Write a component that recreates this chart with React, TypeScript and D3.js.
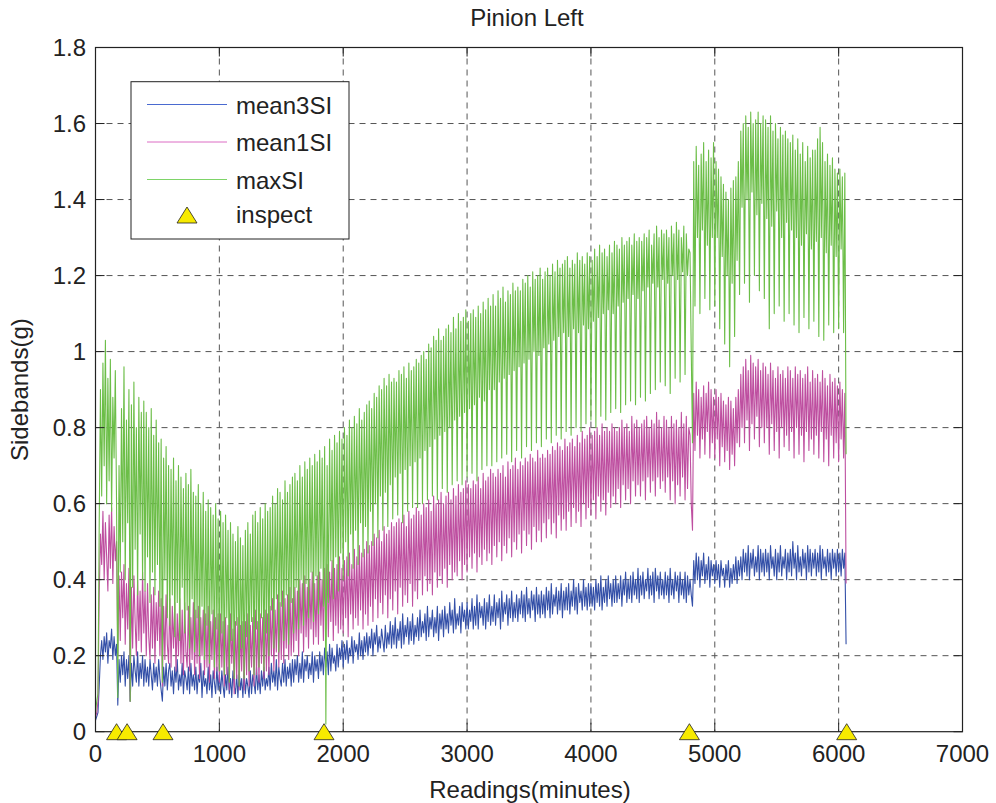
import React from 'react';
import * as d3 from 'd3';

// readings are logged every 10 minutes, starting at 0
const STEP_MIN = 10;

// mean3SI (g), one row = 200 minutes
const mean3SI = [
  0.03, 0.04, 0.05, 0.12, 0.2, 0.24, 0.19, 0.25, 0.21, 0.26, 0.18, 0.24, 0.22, 0.27, 0.19, 0.25, 0.2, 0.23, 0.07, 0.19,
  0.13, 0.2, 0.15, 0.21, 0.12, 0.19, 0.14, 0.2, 0.08, 0.18, 0.12, 0.2, 0.16, 0.13, 0.21, 0.12, 0.18, 0.14, 0.2, 0.12,
  0.19, 0.13, 0.17, 0.12, 0.19, 0.15, 0.11, 0.18, 0.13, 0.17, 0.12, 0.19, 0.14, 0.11, 0.08, 0.17, 0.12, 0.18, 0.11, 0.16,
  0.18, 0.12, 0.16, 0.1, 0.17, 0.13, 0.19, 0.11, 0.15, 0.12, 0.18, 0.1, 0.16, 0.14, 0.11, 0.17, 0.1, 0.18, 0.12, 0.15,
  0.11, 0.17, 0.1, 0.15, 0.13, 0.18, 0.09, 0.16, 0.12, 0.14, 0.1, 0.17, 0.11, 0.15, 0.09, 0.16, 0.13, 0.1, 0.17, 0.11,
  0.15, 0.1, 0.16, 0.12, 0.09, 0.15, 0.11, 0.17, 0.1, 0.14, 0.09, 0.16, 0.12, 0.1, 0.15, 0.09, 0.16, 0.11, 0.14, 0.09,
  0.16, 0.1, 0.14, 0.12, 0.09, 0.16, 0.1, 0.15, 0.13, 0.1, 0.17, 0.11, 0.15, 0.1, 0.16, 0.12, 0.17, 0.11, 0.14, 0.12,
  0.17, 0.11, 0.18, 0.13, 0.16, 0.12, 0.19, 0.11, 0.17, 0.14, 0.12, 0.18, 0.13, 0.19, 0.12, 0.17, 0.14, 0.18, 0.12, 0.19,
  0.13, 0.19, 0.15, 0.2, 0.13, 0.18, 0.14, 0.21, 0.13, 0.19, 0.16, 0.2, 0.14, 0.18, 0.15, 0.21, 0.13, 0.2, 0.16, 0.19,
  0.14, 0.21, 0.16, 0.2, 0.15, 0.22, 0.17, 0.21, 0.15, 0.23, 0.16, 0.22, 0.18, 0.2, 0.16, 0.23, 0.17, 0.22, 0.19, 0.24,
  0.17, 0.23, 0.19, 0.24, 0.18, 0.22, 0.2, 0.25, 0.18, 0.24, 0.21, 0.23, 0.19, 0.26, 0.2, 0.24, 0.19, 0.25, 0.21, 0.26,
  0.2, 0.25, 0.22, 0.27, 0.2, 0.26, 0.23, 0.28, 0.21, 0.25, 0.22, 0.27, 0.24, 0.21, 0.28, 0.22, 0.26, 0.23, 0.29, 0.22,
  0.28, 0.23, 0.3, 0.22, 0.27, 0.24, 0.29, 0.22, 0.31, 0.23, 0.28, 0.25, 0.3, 0.23, 0.29, 0.24, 0.31, 0.23, 0.28, 0.25,
  0.3, 0.24, 0.32, 0.25, 0.29, 0.26, 0.31, 0.24, 0.33, 0.25, 0.3, 0.27, 0.32, 0.25, 0.3, 0.26, 0.33, 0.24, 0.31, 0.27,
  0.32, 0.25, 0.33, 0.27, 0.31, 0.26, 0.34, 0.28, 0.32, 0.26, 0.35, 0.27, 0.31, 0.28, 0.33, 0.26, 0.34, 0.29, 0.32, 0.27,
  0.34, 0.27, 0.32, 0.29, 0.35, 0.27, 0.33, 0.28, 0.36, 0.27, 0.34, 0.3, 0.33, 0.28, 0.35, 0.27, 0.34, 0.29, 0.36, 0.28,
  0.33, 0.29, 0.36, 0.28, 0.34, 0.3, 0.35, 0.27, 0.37, 0.29, 0.34, 0.31, 0.36, 0.28, 0.35, 0.3, 0.37, 0.29, 0.34, 0.3,
  0.36, 0.29, 0.35, 0.31, 0.37, 0.3, 0.36, 0.29, 0.38, 0.31, 0.35, 0.3, 0.37, 0.32, 0.36, 0.29, 0.38, 0.31, 0.36, 0.3,
  0.37, 0.31, 0.36, 0.3, 0.38, 0.32, 0.37, 0.3, 0.39, 0.31, 0.36, 0.33, 0.38, 0.31, 0.37, 0.32, 0.39, 0.3, 0.37, 0.32,
  0.38, 0.32, 0.39, 0.31, 0.37, 0.33, 0.4, 0.32, 0.38, 0.31, 0.39, 0.34, 0.37, 0.32, 0.4, 0.33, 0.38, 0.32, 0.39, 0.33,
  0.39, 0.33, 0.38, 0.32, 0.4, 0.34, 0.39, 0.33, 0.41, 0.32, 0.38, 0.34, 0.4, 0.33, 0.41, 0.35, 0.39, 0.33, 0.4, 0.34,
  0.41, 0.34, 0.39, 0.35, 0.41, 0.33, 0.4, 0.36, 0.42, 0.34, 0.4, 0.35, 0.41, 0.34, 0.42, 0.36, 0.4, 0.35, 0.43, 0.34,
  0.41, 0.36, 0.42, 0.35, 0.4, 0.37, 0.43, 0.35, 0.41, 0.36, 0.42, 0.34, 0.43, 0.37, 0.41, 0.35, 0.42, 0.36, 0.4, 0.35,
  0.42, 0.36, 0.41, 0.34, 0.43, 0.36, 0.4, 0.35, 0.42, 0.37, 0.41, 0.34, 0.42, 0.36, 0.4, 0.35, 0.42, 0.34, 0.41, 0.36,
  0.4, 0.36, 0.33, 0.45, 0.39, 0.47, 0.4, 0.46, 0.38, 0.45, 0.41, 0.47, 0.39, 0.44, 0.4, 0.46, 0.38, 0.45, 0.41, 0.44,
  0.39, 0.45, 0.4, 0.44, 0.38, 0.45, 0.41, 0.43, 0.38, 0.44, 0.4, 0.45, 0.38, 0.43, 0.39, 0.44, 0.4, 0.46, 0.39, 0.45,
  0.41, 0.46, 0.4, 0.48, 0.42, 0.47, 0.41, 0.49, 0.4, 0.47, 0.43, 0.48, 0.41, 0.46, 0.42, 0.49, 0.4, 0.48, 0.42, 0.47,
  0.41, 0.48, 0.42, 0.47, 0.4, 0.49, 0.43, 0.46, 0.41, 0.48, 0.4, 0.47, 0.42, 0.49, 0.41, 0.46, 0.43, 0.48, 0.4, 0.47,
  0.42, 0.48, 0.41, 0.5, 0.43, 0.47, 0.4, 0.49, 0.42, 0.46, 0.41, 0.48, 0.43, 0.47, 0.4, 0.49, 0.42, 0.48, 0.41, 0.47,
  0.43, 0.48, 0.41, 0.47, 0.42, 0.49, 0.4, 0.48, 0.43, 0.46, 0.41, 0.48, 0.42, 0.47, 0.4, 0.48, 0.43, 0.47, 0.41, 0.48,
  0.42, 0.47, 0.41, 0.48, 0.43, 0.47, 0.23,
];

// mean1SI (g)
const mean1SI = [
  0.04, 0.05, 0.08, 0.36, 0.52, 0.44, 0.58, 0.4, 0.55, 0.46, 0.37, 0.57, 0.43, 0.59, 0.39, 0.54, 0.45, 0.5, 0.2, 0.41,
  0.24, 0.42, 0.3, 0.44, 0.23, 0.39, 0.27, 0.43, 0.08, 0.38, 0.22, 0.41, 0.29, 0.2, 0.4, 0.24, 0.37, 0.21, 0.42, 0.26,
  0.37, 0.2, 0.39, 0.25, 0.19, 0.36, 0.22, 0.38, 0.18, 0.34, 0.24, 0.37, 0.2, 0.35, 0.12, 0.33, 0.19, 0.36, 0.23, 0.18,
  0.35, 0.17, 0.33, 0.22, 0.34, 0.16, 0.31, 0.2, 0.35, 0.18, 0.32, 0.15, 0.34, 0.21, 0.17, 0.33, 0.16, 0.3, 0.19, 0.34,
  0.15, 0.32, 0.18, 0.33, 0.14, 0.3, 0.2, 0.32, 0.15, 0.31, 0.17, 0.33, 0.13, 0.29, 0.19, 0.32, 0.14, 0.3, 0.16, 0.31,
  0.13, 0.31, 0.17, 0.29, 0.12, 0.3, 0.15, 0.28, 0.11, 0.31, 0.18, 0.27, 0.1, 0.29, 0.14, 0.3, 0.11, 0.28, 0.16, 0.29,
  0.11, 0.29, 0.15, 0.31, 0.12, 0.28, 0.17, 0.3, 0.12, 0.32, 0.15, 0.29, 0.13, 0.31, 0.18, 0.3, 0.14, 0.32, 0.16, 0.31,
  0.15, 0.33, 0.2, 0.35, 0.16, 0.32, 0.21, 0.36, 0.17, 0.34, 0.19, 0.37, 0.18, 0.35, 0.22, 0.36, 0.19, 0.38, 0.2, 0.35,
  0.21, 0.38, 0.24, 0.37, 0.2, 0.4, 0.26, 0.39, 0.21, 0.41, 0.25, 0.38, 0.22, 0.4, 0.27, 0.42, 0.23, 0.39, 0.25, 0.41,
  0.23, 0.42, 0.28, 0.4, 0.24, 0.43, 0.27, 0.44, 0.25, 0.42, 0.29, 0.45, 0.24, 0.43, 0.28, 0.44, 0.26, 0.46, 0.27, 0.43,
  0.26, 0.45, 0.3, 0.46, 0.25, 0.47, 0.31, 0.44, 0.27, 0.48, 0.3, 0.46, 0.28, 0.49, 0.32, 0.47, 0.27, 0.48, 0.31, 0.5,
  0.28, 0.49, 0.33, 0.5, 0.29, 0.52, 0.35, 0.51, 0.3, 0.53, 0.34, 0.5, 0.31, 0.54, 0.36, 0.52, 0.3, 0.53, 0.35, 0.55,
  0.32, 0.54, 0.37, 0.55, 0.31, 0.56, 0.38, 0.55, 0.33, 0.57, 0.36, 0.54, 0.34, 0.58, 0.39, 0.56, 0.33, 0.57, 0.37, 0.59,
  0.35, 0.58, 0.4, 0.57, 0.36, 0.6, 0.41, 0.59, 0.37, 0.61, 0.39, 0.58, 0.36, 0.62, 0.42, 0.6, 0.38, 0.61, 0.41, 0.63,
  0.39, 0.6, 0.43, 0.62, 0.38, 0.63, 0.44, 0.61, 0.4, 0.64, 0.42, 0.62, 0.41, 0.65, 0.45, 0.63, 0.4, 0.64, 0.44, 0.66,
  0.42, 0.65, 0.46, 0.64, 0.43, 0.66, 0.47, 0.65, 0.42, 0.67, 0.46, 0.64, 0.44, 0.68, 0.48, 0.66, 0.45, 0.67, 0.47, 0.69,
  0.44, 0.68, 0.49, 0.67, 0.46, 0.69, 0.5, 0.68, 0.45, 0.7, 0.49, 0.67, 0.47, 0.71, 0.51, 0.69, 0.46, 0.7, 0.5, 0.72,
  0.48, 0.69, 0.52, 0.71, 0.47, 0.7, 0.53, 0.72, 0.49, 0.71, 0.52, 0.73, 0.48, 0.72, 0.54, 0.71, 0.5, 0.74, 0.53, 0.72,
  0.5, 0.73, 0.55, 0.72, 0.51, 0.74, 0.56, 0.73, 0.52, 0.75, 0.55, 0.74, 0.51, 0.76, 0.57, 0.75, 0.53, 0.74, 0.56, 0.77,
  0.53, 0.75, 0.58, 0.76, 0.54, 0.77, 0.59, 0.75, 0.55, 0.78, 0.58, 0.76, 0.54, 0.79, 0.6, 0.77, 0.56, 0.78, 0.59, 0.8,
  0.57, 0.78, 0.61, 0.79, 0.56, 0.8, 0.62, 0.78, 0.58, 0.81, 0.61, 0.79, 0.57, 0.8, 0.63, 0.79, 0.59, 0.81, 0.62, 0.8,
  0.6, 0.79, 0.64, 0.8, 0.59, 0.82, 0.65, 0.8, 0.61, 0.81, 0.64, 0.79, 0.6, 0.83, 0.66, 0.81, 0.62, 0.82, 0.65, 0.8,
  0.62, 0.81, 0.66, 0.82, 0.61, 0.83, 0.67, 0.8, 0.63, 0.82, 0.66, 0.81, 0.62, 0.84, 0.67, 0.82, 0.64, 0.8, 0.66, 0.83,
  0.63, 0.82, 0.67, 0.8, 0.61, 0.83, 0.66, 0.81, 0.6, 0.82, 0.65, 0.8, 0.62, 0.84, 0.67, 0.81, 0.61, 0.83, 0.64, 0.8,
  0.78, 0.6, 0.53, 0.89, 0.74, 0.92, 0.78, 0.9, 0.72, 0.88, 0.77, 0.91, 0.73, 0.89, 0.79, 0.92, 0.72, 0.9, 0.76, 0.88,
  0.72, 0.9, 0.77, 0.88, 0.7, 0.89, 0.75, 0.87, 0.71, 0.86, 0.74, 0.88, 0.69, 0.87, 0.73, 0.85, 0.7, 0.88, 0.76, 0.9,
  0.75, 0.94, 0.8, 0.96, 0.76, 0.98, 0.82, 0.95, 0.74, 0.99, 0.81, 0.97, 0.77, 0.96, 0.83, 0.98, 0.75, 0.95, 0.8, 0.97,
  0.76, 0.96, 0.8, 0.94, 0.73, 0.97, 0.81, 0.95, 0.74, 0.93, 0.79, 0.96, 0.72, 0.94, 0.8, 0.95, 0.75, 0.93, 0.78, 0.96,
  0.74, 0.95, 0.79, 0.93, 0.72, 0.96, 0.8, 0.94, 0.73, 0.95, 0.78, 0.93, 0.71, 0.94, 0.79, 0.96, 0.74, 0.92, 0.77, 0.95,
  0.73, 0.93, 0.78, 0.94, 0.72, 0.92, 0.79, 0.95, 0.71, 0.93, 0.77, 0.91, 0.7, 0.94, 0.78, 0.92, 0.72, 0.93, 0.76, 0.91,
  0.71, 0.92, 0.77, 0.9, 0.72, 0.89, 0.39,
];

// maxSI (g)
const maxSI = [
  0.05, 0.08, 0.1, 0.55, 0.9, 0.62, 0.97, 0.7, 1.03, 0.6, 0.93, 0.66, 0.98, 0.58, 0.88, 0.72, 0.95, 0.6, 0.09, 0.7,
  0.42, 0.85, 0.5, 0.96, 0.4, 0.82, 0.55, 0.9, 0.08, 0.86, 0.38, 0.92, 0.48, 0.8, 0.36, 0.88, 0.52, 0.84, 0.4, 0.87,
  0.37, 0.84, 0.46, 0.8, 0.34, 0.85, 0.42, 0.78, 0.36, 0.82, 0.44, 0.76, 0.33, 0.77, 0.13, 0.72, 0.4, 0.75, 0.3, 0.7,
  0.28, 0.69, 0.36, 0.72, 0.25, 0.66, 0.34, 0.7, 0.24, 0.67, 0.38, 0.64, 0.26, 0.68, 0.32, 0.65, 0.22, 0.69, 0.35, 0.63,
  0.21, 0.62, 0.3, 0.65, 0.2, 0.6, 0.33, 0.63, 0.19, 0.58, 0.28, 0.61, 0.18, 0.59, 0.31, 0.57, 0.17, 0.6, 0.27, 0.56,
  0.16, 0.58, 0.26, 0.55, 0.15, 0.57, 0.3, 0.53, 0.13, 0.55, 0.24, 0.52, 0.14, 0.5, 0.28, 0.54, 0.12, 0.51, 0.22, 0.49,
  0.14, 0.53, 0.25, 0.55, 0.16, 0.52, 0.29, 0.57, 0.15, 0.58, 0.27, 0.55, 0.17, 0.59, 0.3, 0.56, 0.16, 0.6, 0.26, 0.58,
  0.2, 0.59, 0.32, 0.62, 0.22, 0.6, 0.35, 0.64, 0.21, 0.63, 0.33, 0.61, 0.24, 0.66, 0.36, 0.63, 0.23, 0.65, 0.34, 0.67,
  0.26, 0.68, 0.38, 0.66, 0.27, 0.7, 0.4, 0.67, 0.28, 0.71, 0.39, 0.69, 0.3, 0.72, 0.42, 0.7, 0.29, 0.73, 0.41, 0.71,
  0.31, 0.74, 0.43, 0.72, 0.33, 0.75, 0.02, 0.7, 0.34, 0.77, 0.45, 0.74, 0.35, 0.78, 0.46, 0.76, 0.37, 0.79, 0.47, 0.77,
  0.4, 0.8, 0.5, 0.78, 0.41, 0.82, 0.52, 0.8, 0.43, 0.83, 0.53, 0.81, 0.44, 0.85, 0.55, 0.82, 0.46, 0.84, 0.54, 0.86,
  0.47, 0.87, 0.58, 0.85, 0.49, 0.89, 0.6, 0.88, 0.51, 0.91, 0.62, 0.9, 0.53, 0.93, 0.63, 0.91, 0.54, 0.94, 0.65, 0.92,
  0.56, 0.93, 0.67, 0.92, 0.57, 0.95, 0.68, 0.94, 0.55, 0.96, 0.69, 0.93, 0.58, 0.97, 0.7, 0.95, 0.59, 0.96, 0.71, 0.98,
  0.59, 0.97, 0.72, 0.99, 0.6, 1.0, 0.74, 0.98, 0.61, 1.02, 0.75, 1.01, 0.62, 1.04, 0.77, 1.03, 0.61, 1.06, 0.78, 1.03,
  0.64, 1.04, 0.79, 1.06, 0.63, 1.07, 0.8, 1.05, 0.65, 1.09, 0.82, 1.06, 0.66, 1.1, 0.83, 1.08, 0.65, 1.09, 0.84, 1.11,
  0.67, 1.08, 0.85, 1.1, 0.68, 1.11, 0.86, 1.09, 0.66, 1.12, 0.88, 1.1, 0.69, 1.13, 0.87, 1.11, 0.7, 1.14, 0.9, 1.12,
  0.7, 1.15, 0.9, 1.12, 0.71, 1.16, 0.92, 1.14, 0.72, 1.17, 0.93, 1.13, 0.73, 1.16, 0.94, 1.15, 0.71, 1.18, 0.95, 1.16,
  0.74, 1.17, 0.96, 1.16, 0.72, 1.19, 0.97, 1.18, 0.75, 1.2, 0.98, 1.17, 0.74, 1.21, 1.0, 1.19, 0.76, 1.2, 0.99, 1.22,
  0.75, 1.19, 1.01, 1.21, 0.77, 1.22, 1.02, 1.2, 0.76, 1.23, 1.03, 1.21, 0.78, 1.24, 1.04, 1.22, 0.77, 1.23, 1.05, 1.24,
  0.79, 1.25, 1.04, 1.22, 0.78, 1.24, 1.06, 1.23, 0.8, 1.26, 1.05, 1.24, 0.79, 1.25, 1.07, 1.23, 0.81, 1.26, 1.06, 1.25,
  0.82, 1.24, 1.08, 1.27, 0.8, 1.25, 1.09, 1.28, 0.83, 1.26, 1.1, 1.27, 0.82, 1.25, 1.11, 1.28, 0.84, 1.26, 1.1, 1.29,
  0.85, 1.28, 1.12, 1.27, 0.84, 1.3, 1.13, 1.28, 0.86, 1.29, 1.14, 1.3, 0.87, 1.28, 1.15, 1.31, 0.86, 1.29, 1.14, 1.3,
  0.88, 1.29, 1.16, 1.31, 0.87, 1.3, 1.17, 1.32, 0.89, 1.28, 1.18, 1.31, 0.9, 1.33, 1.17, 1.3, 0.92, 1.32, 1.19, 1.31,
  0.91, 1.32, 1.18, 1.3, 0.89, 1.33, 1.2, 1.31, 0.93, 1.34, 1.19, 1.32, 0.92, 1.3, 1.21, 1.33, 0.94, 1.31, 1.2, 1.27,
  1.26, 1.0, 0.76, 1.5, 1.12, 1.54, 1.3, 1.49, 1.1, 1.52, 1.32, 1.55, 1.14, 1.5, 1.28, 1.53, 1.11, 1.51, 1.3, 1.55,
  1.12, 1.5, 1.3, 1.48, 1.06, 1.46, 1.25, 1.44, 1.02, 1.42, 1.2, 1.4, 0.96, 1.43, 1.18, 1.45, 1.04, 1.46, 1.24, 1.5,
  1.15, 1.58, 1.38, 1.6, 1.18, 1.62, 1.4, 1.59, 1.13, 1.63, 1.42, 1.6, 1.2, 1.61, 1.36, 1.63, 1.16, 1.6, 1.39, 1.62,
  1.14, 1.61, 1.35, 1.59, 1.06, 1.62, 1.33, 1.58, 1.1, 1.6, 1.37, 1.56, 1.12, 1.59, 1.3, 1.57, 1.08, 1.58, 1.34, 1.56,
  1.1, 1.55, 1.32, 1.57, 1.07, 1.53, 1.3, 1.56, 1.05, 1.52, 1.28, 1.55, 1.09, 1.5, 1.31, 1.54, 1.06, 1.51, 1.27, 1.53,
  1.08, 1.53, 1.29, 1.56, 1.04, 1.59, 1.3, 1.55, 1.03, 1.5, 1.26, 1.52, 1.07, 1.49, 1.28, 1.51, 1.05, 1.48, 1.25, 1.47,
  1.06, 1.48, 1.27, 1.46, 1.05, 1.47, 0.73,
];

// inspection times (minutes), drawn on the zero line
const inspectMin = [170, 255, 545, 1845, 4795, 6065];

const xTicks = [0, 1000, 2000, 3000, 4000, 5000, 6000, 7000];
const yTicks = [0, 0.2, 0.4, 0.6, 0.8, 1, 1.2, 1.4, 1.6, 1.8];

const series = [
  { name: 'mean3SI', values: mean3SI, color: '#3450a8', legend: '#4a6ad0' },
  { name: 'mean1SI', values: mean1SI, color: '#be4fa0', legend: '#dc6cc4' },
  { name: 'maxSI', values: maxSI, color: '#6cbe48', legend: '#7ed468' },
];

const W = 996;
const H = 803;
const M = { left: 95.5, right: 962.5, top: 47.5, bottom: 731.7 };
const FONT = '"Liberation Sans", Arial, Helvetica, sans-serif';

function tri(cx: number, cy: number) {
  return `M${cx},${cy - 8}L${cx + 10},${cy + 8}L${cx - 10},${cy + 8}Z`;
}

export default function App() {
  const x = d3.scaleLinear().domain([0, 7000]).range([M.left, M.right]);
  const y = d3.scaleLinear().domain([0, 1.8]).range([M.bottom, M.top]);

  const line = d3
    .line<number>()
    .x((_, i) => x(i * STEP_MIN))
    .y((d) => y(d));

  const fmtY = (v: number) => (v === 0 || v === 1 ? String(v) : d3.format('.1f')(v));

  return (
    <svg
      width={W}
      height={H}
      style={{ position: 'absolute', left: 0, top: 0, background: '#fff' }}
      fontFamily={FONT}
    >
      <rect x={0} y={0} width={W} height={H} fill="#fff" />

      {/* grid */}
      <g stroke="#555" strokeWidth={1} strokeDasharray="6,5">
        {xTicks.slice(1, -1).map((t) => (
          <line key={'gx' + t} x1={x(t)} x2={x(t)} y1={M.top} y2={M.bottom} />
        ))}
        {yTicks.slice(1, -1).map((t) => (
          <line key={'gy' + t} x1={M.left} x2={M.right} y1={y(t)} y2={y(t)} />
        ))}
      </g>

      {/* data, green drawn last like the original */}
      {series.map((s) => (
        <path
          key={s.name}
          d={line(s.values) || ''}
          fill="none"
          stroke={s.color}
          strokeWidth={1.1}
          strokeLinejoin="round"
        />
      ))}

      {/* axes box and inward ticks */}
      <rect
        x={M.left}
        y={M.top}
        width={M.right - M.left}
        height={M.bottom - M.top}
        fill="none"
        stroke="#222"
        strokeWidth={1.2}
      />
      <g stroke="#222" strokeWidth={1}>
        {xTicks.map((t) => (
          <g key={'tx' + t}>
            <line x1={x(t)} x2={x(t)} y1={M.bottom} y2={M.bottom - 9} />
            <line x1={x(t)} x2={x(t)} y1={M.top} y2={M.top + 9} />
          </g>
        ))}
        {yTicks.map((t) => (
          <g key={'ty' + t}>
            <line x1={M.left} x2={M.left + 9} y1={y(t)} y2={y(t)} />
            <line x1={M.right} x2={M.right - 9} y1={y(t)} y2={y(t)} />
          </g>
        ))}
      </g>

      {/* inspections */}
      {inspectMin.map((m) => (
        <path key={'i' + m} d={tri(x(m), y(0))} fill="#f7ea00" stroke="#222" strokeWidth={0.8} />
      ))}

      {/* tick labels */}
      <g fontSize={24} fill="#222">
        {xTicks.map((t) => (
          <text key={'lx' + t} x={x(t)} y={762} textAnchor="middle">
            {t}
          </text>
        ))}
        {yTicks.map((t) => (
          <text key={'ly' + t} x={86} y={y(t) + 8.5} textAnchor="end">
            {fmtY(t)}
          </text>
        ))}
      </g>

      {/* titles */}
      <text x={527} y={26} textAnchor="middle" fontSize={24} fill="#222">
        Pinion Left
      </text>
      <text x={530} y={798} textAnchor="middle" fontSize={24} fill="#222">
        Readings(minutes)
      </text>
      <text
        transform={`translate(28,${(M.top + M.bottom) / 2}) rotate(-90)`}
        textAnchor="middle"
        fontSize={24}
        fill="#222"
      >
        Sidebands(g)
      </text>

      {/* legend */}
      <g>
        <rect x={131} y={81.7} width={218} height={157.3} fill="#fff" stroke="#222" strokeWidth={1} />
        {series.map((s, i) => (
          <g key={'lg' + s.name}>
            <line x1={147} x2={227} y1={104.5 + i * 37.5} y2={104.5 + i * 37.5} stroke={s.legend} strokeWidth={1} />
            <text x={236} y={113.5 + i * 37.5} fontSize={24} fill="#222">
              {s.name}
            </text>
          </g>
        ))}
        <path d={tri(187, 215)} fill="#f7ea00" stroke="#222" strokeWidth={0.8} />
        <text x={236} y={223} fontSize={24} fill="#222">
          inspect
        </text>
      </g>
    </svg>
  );
}
